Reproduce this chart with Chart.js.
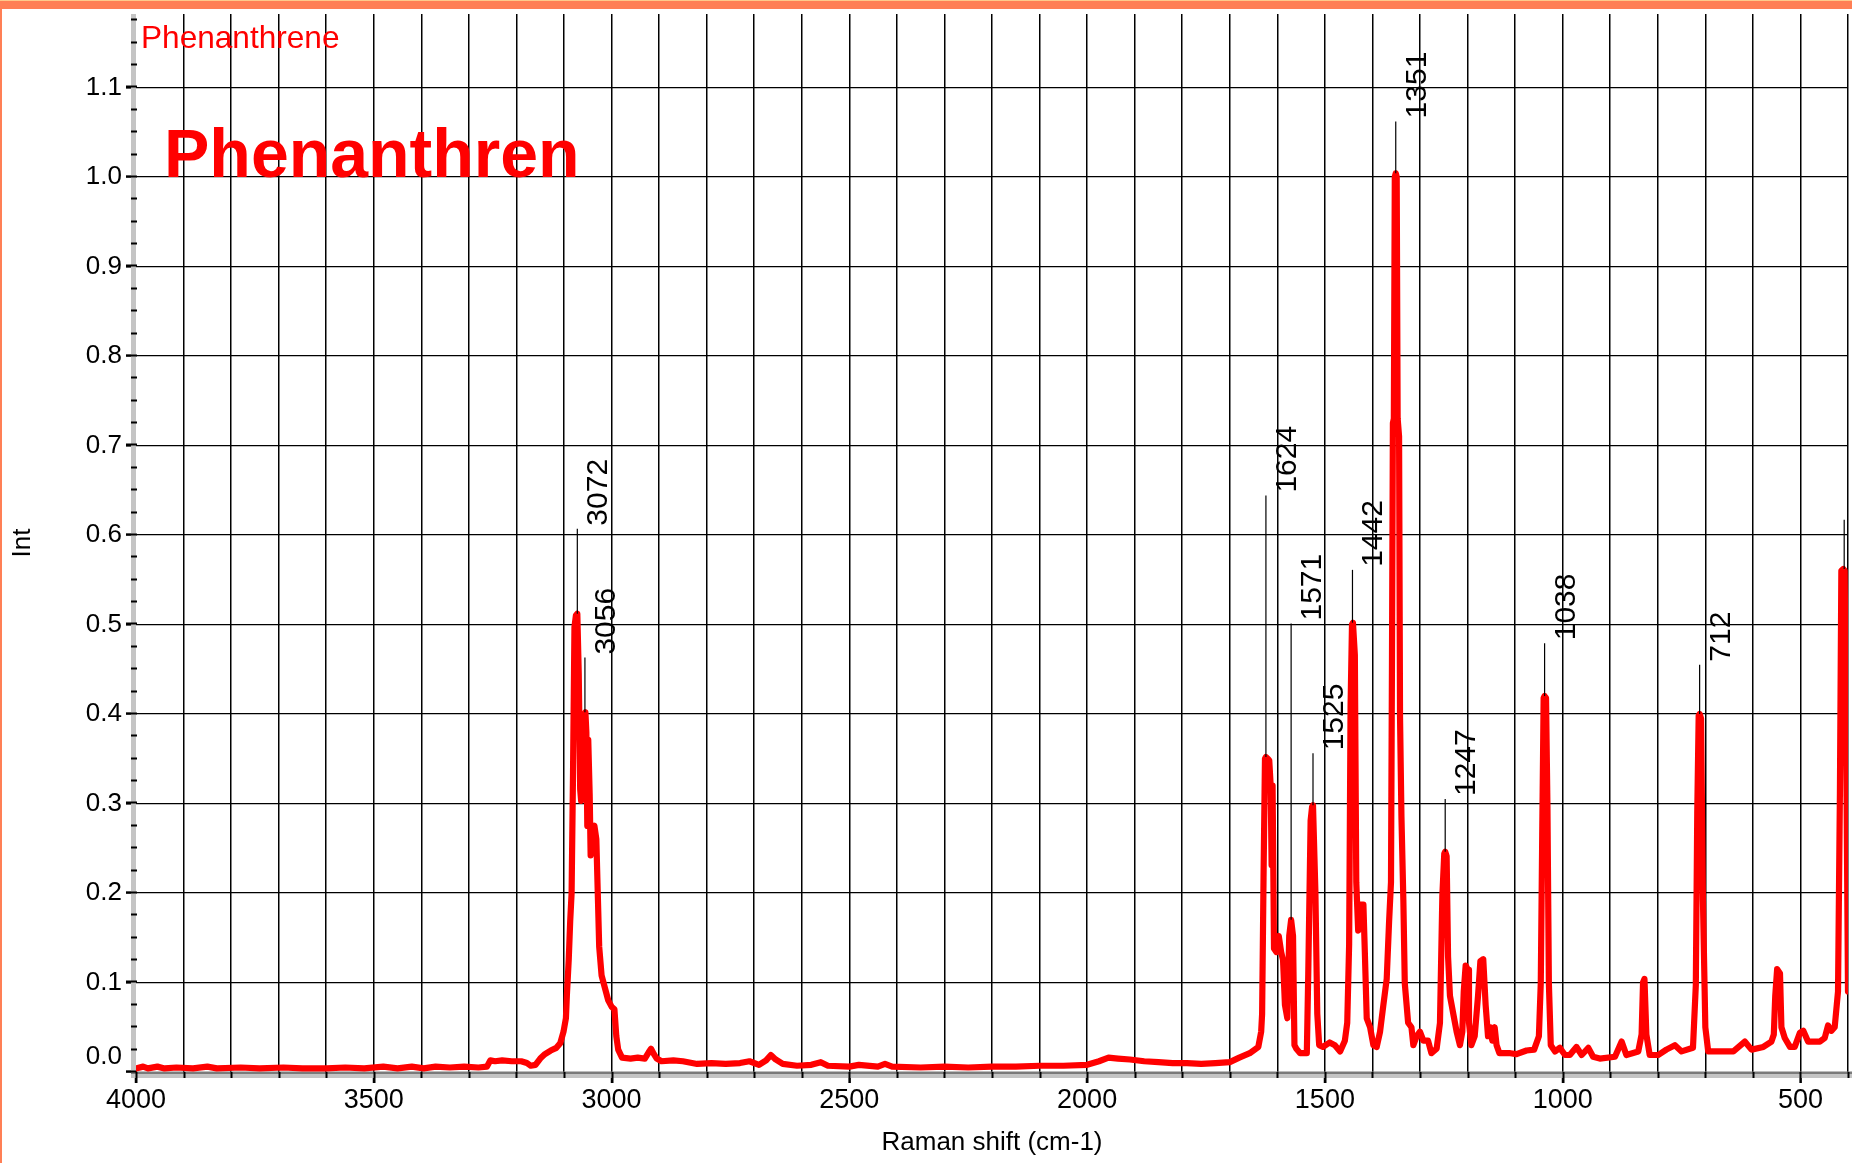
<!DOCTYPE html>
<html lang="en">
  <head>
    <meta charset="UTF-8" />
    <title>Phenanthren Raman</title>
    <script src="https://cdn.jsdelivr.net/npm/chart.js"></script>
    <style>
      html,
      body {
        margin: 0;
        padding: 0;
        background: #fff;
      }
      #wrap {
        position: relative;
        width: 1852px;
        height: 1163px;
      }
    </style>
  </head>
  <body>
    <div id="wrap">
      <canvas id="raman" width="1852" height="1163"></canvas>
    </div>
    <script>
      // Raman shift (cm-1), high to low, and the measured intensity
      const shift = [
        4000, 3985, 3975, 3955, 3940, 3915, 3880, 3850, 3830, 3780, 3740, 3690,
        3650, 3600, 3560, 3520, 3480, 3450, 3420, 3395, 3370, 3340, 3310, 3280,
        3262, 3255, 3245, 3230, 3210, 3190, 3178, 3170, 3160, 3150, 3140, 3128,
        3116, 3108, 3101, 3096, 3094, 3090, 3087, 3084, 3081, 3078, 3075, 3072,
        3069, 3066, 3064, 3062, 3059, 3057, 3055, 3053, 3051, 3049, 3046, 3044,
        3041, 3036, 3032, 3029, 3026, 3021, 3014, 3007, 3000, 2994, 2990, 2986,
        2978, 2960, 2945, 2930, 2922, 2917, 2911, 2905, 2895, 2870, 2850, 2820,
        2790, 2760, 2730, 2710, 2690, 2675, 2665, 2655, 2640, 2610, 2580, 2560,
        2545, 2500, 2480, 2440, 2425, 2410, 2350, 2300, 2250, 2200, 2150, 2100,
        2050, 2000, 1975, 1955, 1935, 1910, 1880, 1850, 1820, 1790, 1760, 1730,
        1700, 1680, 1658, 1640, 1634, 1632, 1629, 1626, 1624, 1620, 1617, 1614,
        1612, 1610, 1607, 1602, 1597, 1592, 1588, 1584, 1579, 1575, 1571, 1567,
        1564, 1560, 1552, 1538, 1535, 1530, 1527, 1525, 1520, 1516, 1512, 1504,
        1490, 1479, 1468, 1458, 1453, 1449, 1446, 1443, 1441, 1437, 1434, 1430,
        1425, 1419, 1416, 1412, 1405, 1398, 1391, 1384, 1377, 1370, 1365, 1361,
        1359, 1357, 1355, 1353, 1351, 1349, 1347, 1344, 1342, 1339, 1335, 1332,
        1325, 1318, 1314, 1307, 1300, 1293, 1283, 1276, 1265, 1258, 1253, 1249,
        1247, 1244, 1241, 1237, 1230, 1223, 1216, 1211, 1208, 1204, 1199, 1197,
        1192, 1185, 1178, 1173, 1167, 1162, 1157, 1152, 1148, 1143, 1139, 1133,
        1110, 1097, 1076, 1060, 1050, 1046, 1043, 1040, 1038, 1035, 1032, 1029,
        1025, 1016, 1006, 995, 985, 971, 960, 946, 936, 922, 890, 876, 866, 841,
        834, 831, 828, 824, 817, 799, 782, 764, 750, 726, 720, 717, 714, 712,
        709, 705, 700, 694, 677, 641, 617, 603, 578, 561, 556, 553, 549, 543,
        540, 533, 522, 512, 501, 494, 484, 459, 449, 442, 435, 428, 421, 417,
        414, 410, 407, 403, 400,
      ]
      const intensity = [
        0.004, 0.006, 0.004, 0.006, 0.004, 0.005, 0.004, 0.006, 0.004, 0.005,
        0.004, 0.005, 0.004, 0.004, 0.005, 0.004, 0.006, 0.004, 0.006, 0.004,
        0.006, 0.005, 0.006, 0.005, 0.006, 0.013, 0.012, 0.013, 0.012, 0.012,
        0.01, 0.007, 0.008, 0.015, 0.02, 0.024, 0.027, 0.032, 0.045, 0.06,
        0.085, 0.126, 0.168, 0.2, 0.335, 0.497, 0.51, 0.512, 0.445, 0.316,
        0.303, 0.38, 0.325, 0.4, 0.402, 0.38, 0.275, 0.371, 0.31, 0.242, 0.27,
        0.275, 0.26, 0.2, 0.14, 0.108, 0.094, 0.08, 0.073, 0.07, 0.04, 0.025,
        0.016, 0.015, 0.016, 0.015, 0.022, 0.026, 0.02, 0.015, 0.012, 0.013,
        0.012, 0.009, 0.01, 0.009, 0.01, 0.012, 0.008, 0.013, 0.019, 0.014,
        0.009, 0.007, 0.008, 0.011, 0.007, 0.006, 0.008, 0.006, 0.009, 0.006,
        0.005, 0.006, 0.005, 0.006, 0.006, 0.007, 0.007, 0.008, 0.012, 0.016,
        0.015, 0.014, 0.012, 0.011, 0.01, 0.01, 0.009, 0.01, 0.011, 0.016,
        0.021, 0.028, 0.045, 0.065, 0.217, 0.35, 0.352, 0.35, 0.348, 0.32,
        0.231, 0.32, 0.138, 0.134, 0.152, 0.134, 0.125, 0.075, 0.06, 0.152,
        0.17, 0.152, 0.03, 0.026, 0.021, 0.021, 0.109, 0.281, 0.296, 0.298,
        0.202, 0.065, 0.03, 0.028, 0.033, 0.03, 0.023, 0.035, 0.055, 0.143,
        0.408, 0.5, 0.502, 0.466, 0.212, 0.158, 0.187, 0.187, 0.134, 0.06,
        0.05, 0.03, 0.028, 0.045, 0.075, 0.104, 0.168, 0.212, 0.45, 0.725,
        0.73, 1.0, 1.004, 1.0, 0.73, 0.71, 0.397, 0.285, 0.192, 0.099, 0.055,
        0.05, 0.03, 0.04, 0.045, 0.035, 0.035, 0.021, 0.026, 0.055, 0.197,
        0.244, 0.246, 0.241, 0.129, 0.085, 0.065, 0.045, 0.03, 0.045, 0.09,
        0.119, 0.114, 0.055, 0.03, 0.04, 0.085, 0.124, 0.126, 0.075, 0.04,
        0.05, 0.035, 0.05, 0.03, 0.021, 0.021, 0.02, 0.024, 0.025, 0.04, 0.1,
        0.265, 0.418, 0.42, 0.418, 0.296, 0.099, 0.03, 0.023, 0.027, 0.019,
        0.019, 0.028, 0.019, 0.027, 0.017, 0.015, 0.017, 0.034, 0.019, 0.023,
        0.042, 0.1, 0.104, 0.042, 0.019, 0.019, 0.025, 0.03, 0.023, 0.027,
        0.097, 0.289, 0.398, 0.4, 0.395, 0.191, 0.05, 0.023, 0.023, 0.023,
        0.034, 0.025, 0.028, 0.034, 0.042, 0.085, 0.115, 0.11, 0.05, 0.038,
        0.028, 0.028, 0.044, 0.046, 0.034, 0.034, 0.038, 0.052, 0.046, 0.05,
        0.09, 0.312, 0.56, 0.562, 0.56, 0.308, 0.09,
      ]

      // picked peaks: position, printed label, top of the marker line
      const peakShift = [3072, 3056, 1624, 1571, 1525, 1442, 1351, 1247, 1038, 712, 408]
      const peakLabel = ['3072', '3056', '1624', '1571', '1525', '1442', '1351', '1247', '1038', '712', '408']
      const peakTop = [0.607, 0.463, 0.644, 0.501, 0.356, 0.561, 1.062, 0.305, 0.479, 0.455, 0.617]

      const xLabelValues = [4000, 3500, 3000, 2500, 2000, 1500, 1000, 500]
      const yLabelValues = [0, 0.1, 0.2, 0.3, 0.4, 0.5, 0.6, 0.7, 0.8, 0.9, 1.0, 1.1]

      const fontFamily = "'Liberation Sans', Arial, sans-serif"
      Chart.defaults.font.family = fontFamily
      Chart.defaults.color = '#000'

      const points = shift.map((s, i) => ({ x: s, y: intensity[i] }))

      // highest point of the trace near a picked position
      function peakHeight(s) {
        let best = 0
        shift.forEach((v, i) => {
          if (Math.abs(v - s) <= 4 && intensity[i] > best) best = intensity[i]
        })
        return best
      }

      const decor = {
        id: 'decor',
        beforeDatasetsDraw(chart) {
          const { ctx, chartArea: a, scales } = chart
          const x = scales.x
          const y = scales.y
          ctx.save()
          // grey axis bars
          ctx.fillStyle = '#c4c4c4'
          ctx.fillRect(a.left - 5, a.top, 5, a.bottom - a.top + 6)
          ctx.fillRect(a.left - 5, a.bottom, a.right - a.left + 9, 6)
          ctx.fillStyle = '#7a7a7a'
          ctx.fillRect(a.left - 5, a.bottom - 0.5, a.right - a.left + 9, 2.5)

          ctx.strokeStyle = '#000'
          ctx.lineWidth = 2
          ctx.beginPath()
          // y ticks, minor every 0.025
          for (let i = 0; i * 0.025 < y.max; i++) {
            const py = Math.round(y.getPixelForValue(i * 0.025)) - 0.5
            const len = i % 4 === 0 ? 10 : 5
            ctx.moveTo(a.left - len, py)
            ctx.lineTo(a.left + 1, py)
          }
          // x grid lines carried through the bottom bar
          for (let v = 400; v <= 4000; v += 100) {
            const px = Math.round(x.getPixelForValue(v)) + 0.5
            ctx.moveTo(px, a.bottom)
            ctx.lineTo(px, a.bottom + (v % 500 === 0 ? 11 : 6))
          }
          ctx.stroke()
          ctx.restore()
        },
        afterDatasetsDraw(chart) {
          const { ctx, scales } = chart
          const x = scales.x
          const y = scales.y
          ctx.save()

          // peak markers with rotated labels
          ctx.strokeStyle = '#000'
          ctx.lineWidth = 1.2
          ctx.fillStyle = '#000'
          ctx.font = '30px ' + fontFamily
          peakShift.forEach((s, i) => {
            const px = x.getPixelForValue(s)
            const top = y.getPixelForValue(peakTop[i])
            const bottom = y.getPixelForValue(peakHeight(s))
            ctx.beginPath()
            ctx.moveTo(px, top)
            ctx.lineTo(px, bottom)
            ctx.stroke()
            ctx.save()
            ctx.translate(px + 30, top - 3)
            ctx.rotate(-Math.PI / 2)
            ctx.textAlign = 'left'
            ctx.textBaseline = 'alphabetic'
            ctx.fillText(peakLabel[i], 0, 0)
            ctx.restore()
          })

          // sample names
          ctx.fillStyle = '#ff0000'
          ctx.textAlign = 'left'
          ctx.textBaseline = 'alphabetic'
          ctx.font = '31.6px ' + fontFamily
          ctx.fillText('Phenanthrene', 141, 48)
          ctx.font = 'bold 68px ' + fontFamily
          ctx.fillText('Phenanthren', 164, 177)
          ctx.restore()
        },
        afterDraw(chart) {
          const { ctx, width, height } = chart
          ctx.save()
          ctx.fillStyle = '#ff7f55'
          ctx.fillRect(0, 0, width, 9)
          ctx.fillRect(0, 0, 2, height)
          ctx.fillStyle = '#ffc98a'
          ctx.fillRect(0, 0, width, 1)
          ctx.restore()
        },
      }

      new Chart(document.getElementById('raman'), {
        type: 'line',
        data: {
          datasets: [
            {
              label: 'Phenanthrene',
              data: points,
              borderColor: '#ff0000',
              borderWidth: 6.2,
              borderJoinStyle: 'round',
              borderCapStyle: 'round',
              pointRadius: 0,
              tension: 0,
              fill: false,
            },
          ],
        },
        options: {
          responsive: false,
          animation: false,
          devicePixelRatio: 1,
          layout: { padding: { left: 0, top: 14, right: 4, bottom: 0 } },
          plugins: {
            legend: { display: false },
            tooltip: { enabled: false },
          },
          scales: {
            x: {
              type: 'linear',
              reverse: true,
              min: 400,
              max: 4000,
              border: { display: false },
              grid: {
                color: (c) => (c.tick && c.tick.value === 4000 ? 'rgba(0,0,0,0)' : '#000'),
                lineWidth: 1.5,
                tickLength: 11,
                tickWidth: 2,
                tickColor: (c) =>
                  c.tick && xLabelValues.includes(c.tick.value) ? '#000' : 'rgba(0,0,0,0)',
              },
              ticks: {
                stepSize: 100,
                autoSkip: false,
                maxRotation: 0,
                padding: 1,
                font: { size: 27 },
                callback: (v) => (xLabelValues.includes(v) ? String(v) : ''),
              },
              title: {
                display: true,
                text: 'Raman shift (cm-1)',
                font: { size: 26 },
                padding: { top: 0, bottom: 5 },
              },
              afterFit(scale) {
                scale.height = 91
                scale.paddingLeft = 0
                scale.paddingRight = 0
              },
            },
            y: {
              min: 0,
              max: 1.182,
              border: { display: false },
              grid: {
                color: (c) => (c.tick && c.tick.value === 0 ? 'rgba(0,0,0,0)' : '#000'),
                lineWidth: 1.3,
                tickLength: 10,
                tickWidth: 2,
                tickColor: '#000',
              },
              ticks: {
                stepSize: 0.1,
                includeBounds: false,
                padding: 4,
                font: { size: 26 },
                callback: (v) => {
                  const hit = yLabelValues.find((t) => Math.abs(t - v) < 1e-6)
                  if (hit === undefined) return ''
                  // the bottom label sits above its tick
                  return hit === 0 ? ['0.0', ''] : hit.toFixed(1)
                },
              },
              title: {
                display: true,
                text: 'Int',
                font: { size: 26 },
                padding: { top: 7, bottom: 0 },
              },
              afterFit(scale) {
                scale.width = 136
                scale.paddingTop = 0
                scale.paddingBottom = 0
              },
            },
          },
        },
        plugins: [decor],
      })
    </script>
  </body>
</html>
